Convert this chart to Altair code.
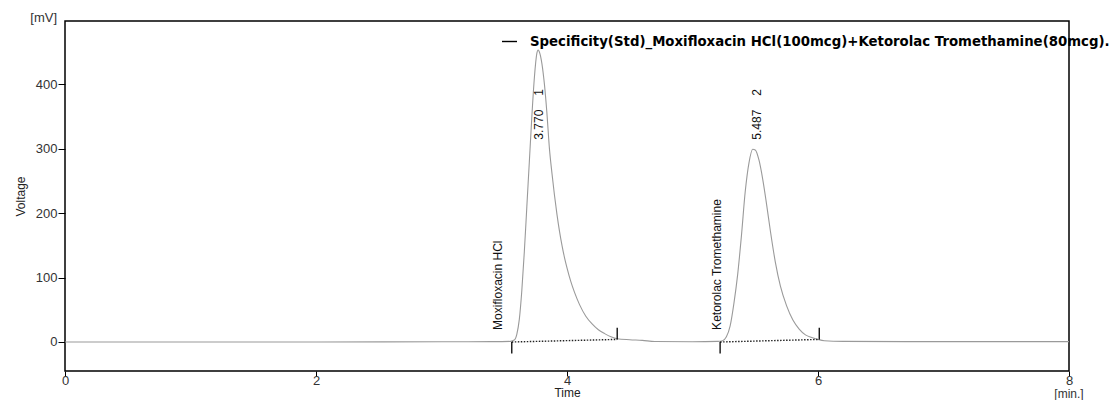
import altair as alt
import pandas as pd

# ---- chromatogram trace (time in min, signal in mV) ----
time_min = [0.00, 1.00, 2.00, 3.00, 3.40, 3.55, 3.58, 3.60, 3.62, 3.64, 3.66, 3.68,
            3.70, 3.72, 3.74, 3.76, 3.77, 3.78, 3.80, 3.82, 3.84, 3.86, 3.88, 3.90,
            3.92, 3.94, 3.96, 3.98, 4.00, 4.03, 4.06, 4.10, 4.15, 4.20, 4.25, 4.30,
            4.35, 4.40, 4.50, 4.60, 4.70, 5.00, 5.20, 5.24, 5.27, 5.30, 5.33, 5.36,
            5.39, 5.42, 5.45, 5.48, 5.50, 5.53, 5.56, 5.59, 5.62, 5.66, 5.70, 5.75,
            5.80, 5.85, 5.90, 5.95, 6.00, 6.05, 6.20, 7.00, 8.00]
signal_mv = [0.0, 0.0, 0.0, 0.3, 0.5, 1.0, 3.0, 12.0, 35.0, 80.0, 140.0, 210.0,
             280.0, 350.0, 410.0, 448.0, 453.0, 450.0, 432.0, 400.0, 355.0, 300.0, 262.0, 228.0,
             198.0, 172.0, 150.0, 131.0, 115.0, 94.0, 77.0, 58.0, 40.0, 28.0, 19.0, 13.0,
             8.0, 5.0, 3.5, 2.5, 0.8, 0.3, 1.0, 2.0, 8.0, 25.0, 60.0, 105.0,
             165.0, 233.0, 278.0, 299.0, 298.0, 282.0, 252.0, 214.0, 173.0, 124.0, 87.0, 56.0,
             34.0, 20.0, 11.0, 7.0, 4.0, 2.0, 1.0, 0.5, 0.5]
series_name = "Specificity(Std)_Moxifloxacin HCl(100mcg)+Ketorolac Tromethamine(80mcg)."

# ---- integrated peaks ----
peak_names = ["Moxifloxacin HCl", "Ketorolac Tromethamine"]
peak_numbers = ["1", "2"]
retention_times = ["3.770", "5.487"]
ret_time_values = [3.777, 5.51]
name_label_x = [3.45, 5.195]
base_start_t = [3.56, 5.22]
base_end_t = [4.40, 6.01]
base_start_mv = [0.0, 0.0]
base_end_mv = [4.0, 4.0]

# ---- axes ----
x_ticks = [0, 2, 4, 6, 8]
y_ticks = [0, 100, 200, 300, 400]
x_domain = [0, 8]
y_domain = [-45, 498]

trace = pd.DataFrame({"t": time_min, "mV": signal_mv})

TICK = 18.0   # length of the integration markers (mV)
NAME_Y = 18.8
RT_Y = 313.8
NUM_Y = 382.0

marks_rows = []
for s, e, sv, ev in zip(base_start_t, base_end_t, base_start_mv, base_end_mv):
    marks_rows.append({"t": s, "y1": sv, "y2": sv - TICK, "series": series_name})
    marks_rows.append({"t": e, "y1": ev, "y2": ev + TICK, "series": series_name})
marks = pd.DataFrame(marks_rows)
baselines = pd.DataFrame({"t": base_start_t, "t2": base_end_t,
                          "y1": base_start_mv, "y2": base_end_mv})

labels_rows = []
for i in range(2):
    labels_rows.append({"t": name_label_x[i], "v": NAME_Y, "txt": peak_names[i]})
    labels_rows.append({"t": ret_time_values[i], "v": RT_Y, "txt": retention_times[i]})
    labels_rows.append({"t": ret_time_values[i], "v": NUM_Y, "txt": peak_numbers[i]})
labels = pd.DataFrame(labels_rows)

FONT = "Liberation Sans"

xscale = alt.Scale(domain=x_domain, nice=False, zero=False)
yscale = alt.Scale(domain=y_domain, nice=False, zero=False)

x_axis = alt.Axis(values=x_ticks, format="d", title="Time", titleFontSize=12,
                  titleFontWeight="normal", titleFont=FONT, titleColor="#222", titlePadding=0,
                  labelFont=FONT, labelFontSize=13, labelColor="#333", labelPadding=-2,
                  tickSize=5, tickColor="black", grid=False, domain=False, labelFlush=False)
y_axis = alt.Axis(values=y_ticks, format="d", title="Voltage", titleFontSize=12,
                  titleFontWeight="normal", titleFont=FONT, titleColor="#222", titlePadding=8,
                  labelFont=FONT, labelFontSize=13, labelColor="#333", labelPadding=1,
                  tickSize=7, tickColor="black", grid=False, domain=False)

line = alt.Chart(trace).mark_line(interpolate="monotone", strokeWidth=1.1,
                                  color="#9a9a9a").encode(
    x=alt.X("t:Q", scale=xscale, axis=x_axis),
    y=alt.Y("mV:Q", scale=yscale, axis=y_axis),
)

tick_rules = alt.Chart(marks).mark_rule(strokeWidth=1.3).encode(
    x="t:Q", y="y1:Q", y2="y2:Q",
    stroke=alt.Stroke("series:N", scale=alt.Scale(range=["black"]),
                      legend=alt.Legend(orient="none", legendX=436, legendY=12, title=None,
                                        symbolType="stroke", symbolSize=225,
                                        symbolStrokeWidth=1.4,
                                        labelFontWeight="bold", labelFontSize=13.3,
                                        labelFont="DejaVu Sans", labelColor="black",
                                        labelLimit=1000, labelOffset=12, padding=0)),
)

base_rules = alt.Chart(baselines).mark_rule(color="#222", strokeWidth=1.4,
                                            strokeDash=[1.5, 1.5]).encode(
    x="t:Q", x2="t2:Q", y="y1:Q", y2="y2:Q")

label_text = alt.Chart(labels).mark_text(angle=270, align="left", baseline="middle",
                                         font=FONT, fontSize=12, color="#111").encode(
    x="t:Q", y="v:Q", text="txt:N")

unit_df = pd.DataFrame({"t": [x_domain[0], x_domain[1]], "v": [y_domain[1], y_domain[0]],
                        "txt": ["[mV]", "[min.]"]})
mv_text = alt.Chart(unit_df.iloc[[0]]).mark_text(align="right", baseline="middle", dx=-8, dy=-3,
                                                  font=FONT, fontSize=13, color="#333").encode(
    x="t:Q", y="v:Q", text="txt:N")
min_text = alt.Chart(unit_df.iloc[[1]]).mark_text(align="center", baseline="middle", dy=23,
                                                   font=FONT, fontSize=12, color="#333").encode(
    x="t:Q", y="v:Q", text="txt:N")

chart = alt.layer(line, base_rules, tick_rules, label_text, mv_text, min_text).properties(
    width=1004, height=350,
    autosize=alt.AutoSizeParams(type="none"),
    padding={"left": 57, "top": 13, "right": 42, "bottom": 29},
    background="white",
).configure_view(stroke="black", strokeWidth=1.5)

chart.save("out.html", embed_options={"renderer": "svg", "actions": False})
